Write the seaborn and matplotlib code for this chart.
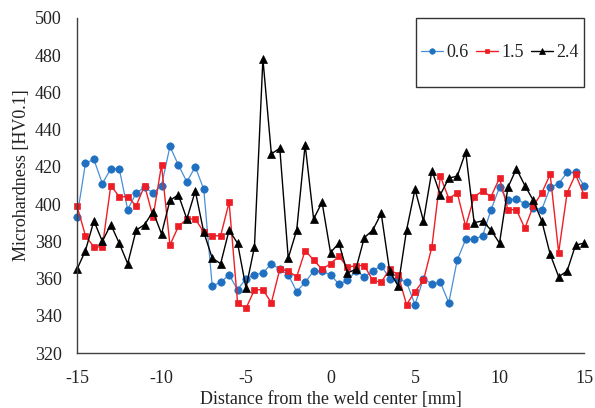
import matplotlib
matplotlib.use("Agg")
import matplotlib.pyplot as plt
from matplotlib.patches import Rectangle
from matplotlib.ticker import MultipleLocator
import seaborn as sns

# ---- data ----
distance = [-15, -14.5, -14, -13.5, -13, -12.5, -12, -11.5, -11, -10.5,
            -10, -9.5, -9, -8.5, -8, -7.5, -7, -6.5, -6, -5.5,
            -5, -4.5, -4, -3.5, -3, -2.5, -2, -1.5, -1, -0.5,
            0, 0.5, 1, 1.5, 2, 2.5, 3, 3.5, 4, 4.5,
            5, 5.5, 6, 6.5, 7, 7.5, 8, 8.5, 9, 9.5,
            10, 10.5, 11, 11.5, 12, 12.5, 13, 13.5, 14, 14.5, 15]

hv_06 = [393, 422, 424, 411, 419, 419, 397, 406, 409, 406,
         410, 431, 421, 412, 420, 408, 356, 358, 362, 354,
         360, 362, 363, 368, 365, 362, 353, 358, 364, 364,
         362, 357, 359, 364, 361, 364, 367, 360, 360, 358,
         346, 360, 357, 358, 347, 370, 381, 381, 383, 397,
         409, 402, 403, 400, 398, 397, 409, 411, 417, 417, 410]

hv_15 = [399, 383, 377, 377, 410, 404, 404, 399, 410, 393,
         421, 378, 388, 392, 392, 385, 383, 383, 401, 347,
         344, 354, 354, 347, 365, 364, 361, 375, 370, 365,
         368, 372, 366, 367, 367, 359, 358, 365, 362, 346,
         353, 359, 377, 415, 403, 406, 388, 404, 407, 404,
         414, 397, 397, 387, 399, 406, 416, 374, 406, 416, 405]

hv_24 = [365, 375, 391, 380, 389, 379, 368, 386, 389, 396,
         384, 402, 405, 392, 407, 385, 371, 368, 386, 379,
         355, 377, 478, 427, 430, 371, 386, 432, 392, 401,
         374, 379, 363, 365, 382, 386, 395, 364, 356, 386,
         408, 391, 418, 405, 414, 415, 428, 390, 391, 386,
         379, 409, 419, 410, 402, 391, 373, 361, 364, 378, 379]

series_labels = ["0.6", "1.5", "2.4"]
x_ticks = [-15, -10, -5, 0, 5, 10, 15]
y_ticks = [320, 340, 360, 380, 400, 420, 440, 460, 480, 500]

# ---- style ----
sns.set_style("white")
plt.rcParams['font.family'] = ['Liberation Serif', 'DejaVu Serif']
plt.rcParams['axes.unicode_minus'] = False
FS = 13

W, H = 595, 408
fig = plt.figure(figsize=(W / 100, H / 100), dpi=100)
ax = fig.add_axes([77 / W, 1 - 353 / H, 507 / W, 335 / H])

styles = [
    dict(color="#4A8FD6", marker="o", markersize=5.3, markerfacecolor="#1F70C1",
         markeredgecolor="#1F70C1", linewidth=0.9),
    dict(color="#F01E24", marker="s", markersize=4.4, markerfacecolor="#EE1C25",
         markeredgecolor="#EE1C25", linewidth=1.0),
    dict(color="black", marker="^", markersize=5.8, markerfacecolor="black",
         markeredgecolor="black", linewidth=1.0),
]

for vals, lab, st in zip([hv_06, hv_15, hv_24], series_labels, styles):
    sns.lineplot(x=distance, y=vals, ax=ax, label=lab, estimator=None,
                 markeredgewidth=0.5, clip_on=False, **st)

ax.set_xlim(-15, 15)
ax.set_ylim(320, 500)
ax.set_xticks(x_ticks)
ax.set_yticks(y_ticks)
ax.xaxis.set_minor_locator(MultipleLocator(1))
ax.yaxis.set_minor_locator(MultipleLocator(4))
ax.tick_params(which="both", direction="in", length=3.2, width=0.8,
               color="#404040", labelsize=FS, labelcolor="#222222")
ax.tick_params(axis="y", pad=11)
ax.tick_params(axis="x", pad=12)
ax.grid(False)

sns.despine(ax=ax)
for s in ["left", "bottom"]:
    ax.spines[s].set_color("#404040")
    ax.spines[s].set_linewidth(1.0)

ax.set_xlabel("Distance from the weld center [mm]", fontsize=FS, color="#222222", labelpad=3)
ax.set_ylabel("Microhardness [HV0.1]", fontsize=FS, color="#222222")
ax.yaxis.set_label_coords(-0.092, 0.531)

# legend box
x0 = (416 - 77) / 507
y0 = (353 - 87) / 335
ax.add_patch(Rectangle((x0, y0), 1 - x0, 1 - y0, transform=ax.transAxes,
                       facecolor="white", edgecolor="#333333", lw=1.0,
                       clip_on=False, zorder=4))
handles, labels = ax.get_legend_handles_labels()
leg = ax.legend(handles, labels, ncol=3, frameon=False, loc="center",
                bbox_to_anchor=((x0 + 1) / 2, (y0 + 1) / 2),
                handlelength=1.2, handletextpad=0.2, columnspacing=0.4,
                markerscale=0.75, fontsize=FS, borderpad=0, borderaxespad=0)
leg.set_zorder(5)
for t in leg.get_texts():
    t.set_color("#222222")

fig.savefig("out.png", dpi=100)
